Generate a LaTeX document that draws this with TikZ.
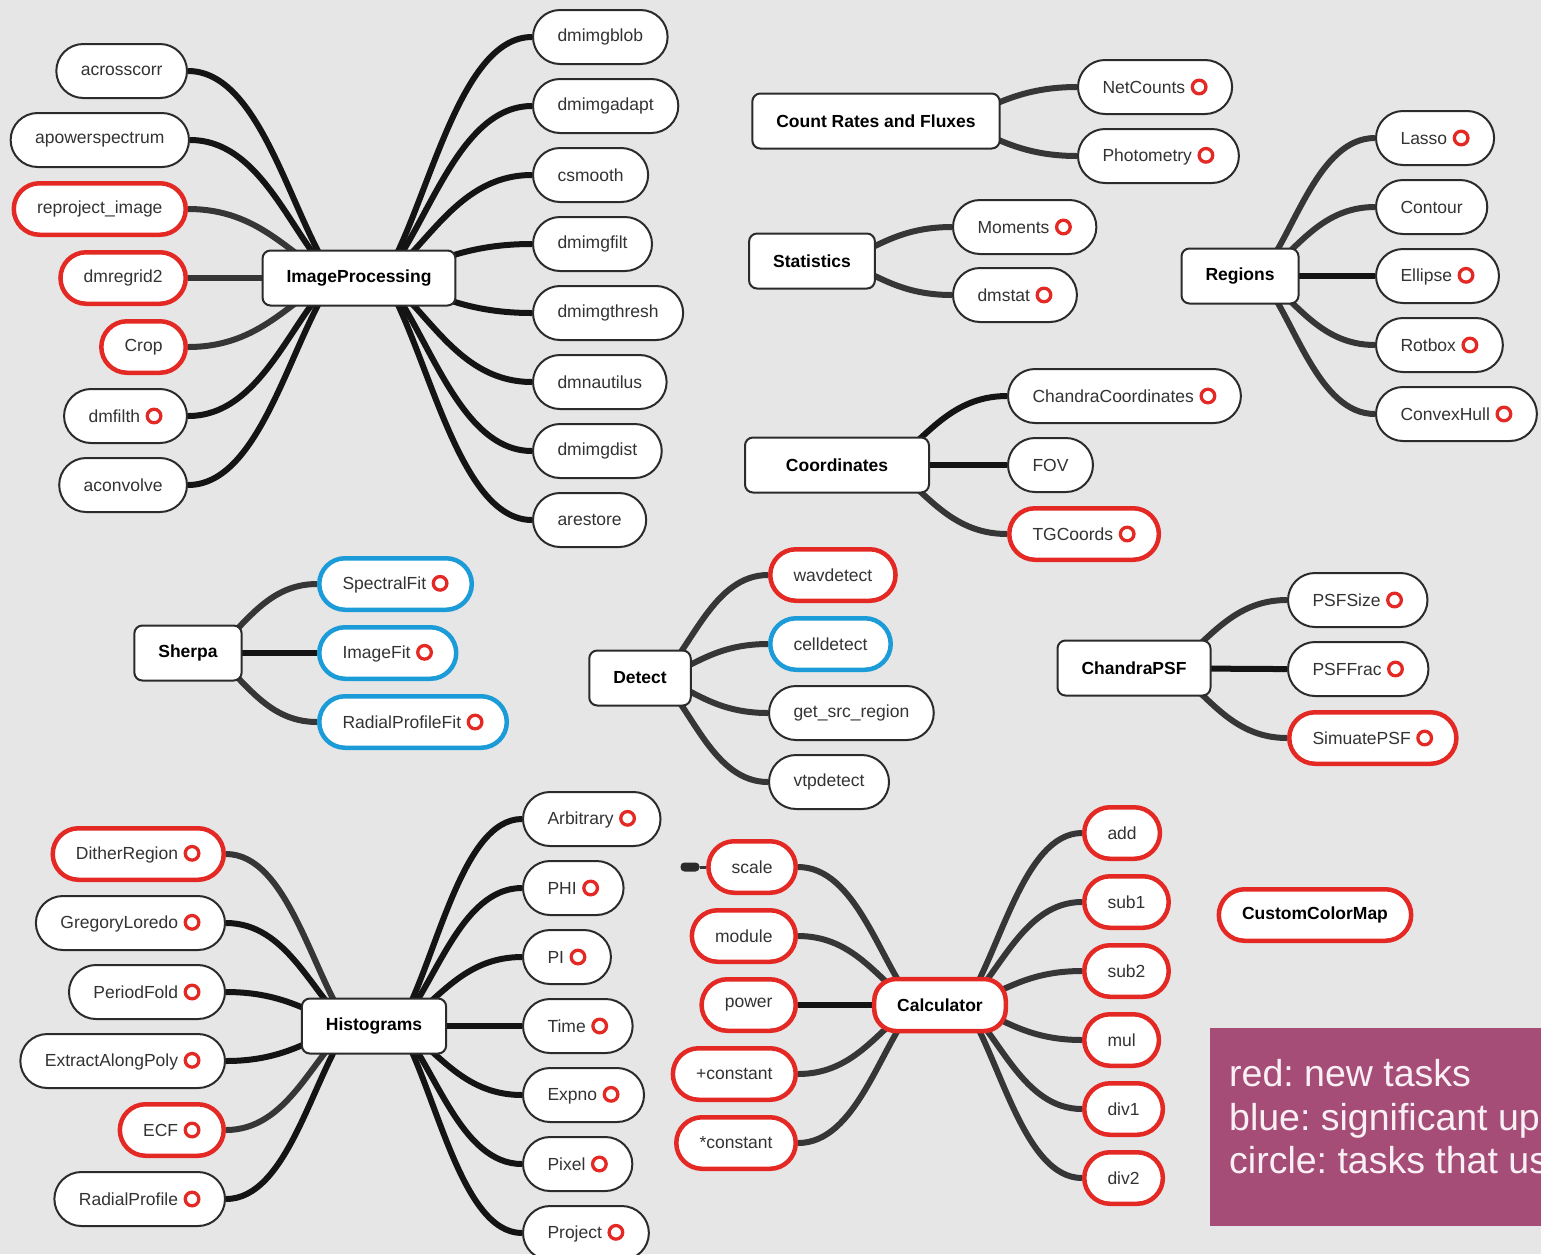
\documentclass[tikz,border=0pt]{standalone}
\usepackage{fontspec}
\setmainfont{Liberation Sans}
\usetikzlibrary{calc}
\frenchspacing
\pgfdeclarelayer{back}
\pgfdeclarelayer{bg}
\pgfsetlayers{back,bg,main}
\definecolor{paper}{HTML}{E6E6E6}
\definecolor{newred}{HTML}{E42823}
\definecolor{updblue}{HTML}{1B9BD7}
\definecolor{pillgray}{HTML}{2B2B2B}
\definecolor{txtgray}{HTML}{333333}
\definecolor{connblack}{HTML}{141414}
\definecolor{conngray}{HTML}{363636}
\definecolor{legendbg}{HTML}{A64D77}
\definecolor{legendtxt}{HTML}{F8F0F4}
\newcommand\taskring{\tikz[x=1cm,y=1cm,baseline=-6.2pt]\draw[line width=3.3pt,draw=newred] (0,0) circle (6.8pt);}
\newcommand\withring{\hspace{5.5pt}\taskring}
\newcommand\linkit[3][conngray]{\draw[conn,draw=#1] (#2) .. controls ($(#2)!0.3!(#3)$) and ($(#3)!0.5!(#3 -| #2)$) .. (#3);}
\tikzset{
  leaf/.style={draw=pillgray, line width=2pt, fill=white, rounded corners=27pt,
    minimum height=54pt, inner xsep=24.5pt, inner ysep=0pt,
    font=\fontsize{17.5}{20}\selectfont, text=txtgray},
  newt/.style={leaf, draw=newred, line width=4.5pt, rounded corners=25.75pt,
    minimum height=51.5pt, inner xsep=23.25pt},
  updt/.style={leaf, draw=updblue, line width=4.5pt, rounded corners=25.75pt,
    minimum height=51.5pt, inner xsep=23.25pt},
  hub/.style={draw=pillgray, line width=2pt, fill=white, rounded corners=8pt,
    minimum height=55pt, inner xsep=24pt, inner ysep=0pt,
    font=\fontsize{17.5}{20}\selectfont\bfseries, text=black},
  calchub/.style={hub, draw=newred, line width=4.5pt, rounded corners=22pt,
    minimum height=52pt, inner xsep=23pt},
  conn/.style={line width=6pt},
  legendtext/.style={anchor=base west, inner sep=0pt, text=legendtxt,
    font=\fontsize{37.5}{44}\selectfont},
}
\begin{document}
\begin{tikzpicture}[x=1pt,y=-1pt]
\useasboundingbox (0,0) rectangle (1541,1254);
\begin{pgfonlayer}{back}
\fill[paper] (0,0) rectangle (1541,1254);
\end{pgfonlayer}
\clip (0,0) rectangle (1541,1254);

% ---------- ImageProcessing ----------
\node[hub] (ip) at (359,278) {ImageProcessing};
\node[leaf,anchor=east] (acrosscorr) at (188,71) {acrosscorr};
\node[leaf,anchor=east] (apower) at (190,140) {apowerspectrum};
\node[newt,anchor=east] (reproj) at (188,209) {reproject\_image};
\node[newt,anchor=east] (dmregrid) at (188,278) {dmregrid2};
\node[newt,anchor=east] (crop) at (188,347) {Crop};
\node[leaf,anchor=east] (dmfilth) at (188,416) {dmfilth\withring};
\node[leaf,anchor=east] (aconv) at (188,485) {aconvolve};
\node[leaf,anchor=west] (blob) at (532,37) {dmimgblob};
\node[leaf,anchor=west] (adapt) at (532,106) {dmimgadapt};
\node[leaf,anchor=west] (csmooth) at (532,175) {csmooth};
\node[leaf,anchor=west] (filt) at (532,244) {dmimgfilt};
\node[leaf,anchor=west] (thresh) at (532,313) {dmimgthresh};
\node[leaf,anchor=west] (naut) at (532,382) {dmnautilus};
\node[leaf,anchor=west] (dist) at (532,451) {dmimgdist};
\node[leaf,anchor=west] (arest) at (532,520) {arestore};
\coordinate (ipL) at ($(ip.center)+(-25,0)$);
\coordinate (ipR) at ($(ip.center)+(25,0)$);

% ---------- Count Rates ----------
\node[hub] (crf) at (876,121) {Count Rates and Fluxes};
\node[leaf,anchor=west] (netc) at (1077,87) {NetCounts\withring};
\node[leaf,anchor=west] (phot) at (1077,156) {Photometry\withring};
\coordinate (crfR) at ($(crf.center)+(75,0)$);

% ---------- Statistics ----------
\node[hub] (stats) at (812,261) {Statistics};
\node[leaf,anchor=west] (moments) at (952,227) {Moments\withring};
\node[leaf,anchor=west] (dmstat) at (952,295) {dmstat\withring};
\coordinate (statsR) at ($(stats.center)+(28,0)$);

% ---------- Coordinates ----------
\node[hub, minimum width=184pt] (coords) at (837,465) {Coordinates};
\node[leaf,anchor=west] (chcoord) at (1007,396) {ChandraCoordinates\withring};
\node[leaf,anchor=west] (fov) at (1007,465) {FOV};
\node[newt,anchor=west] (tgc) at (1007,534) {TGCoords\withring};
\coordinate (coordsR) at ($(coords.center)+(50,0)$);

% ---------- Regions ----------
\node[hub] (regions) at (1240,276) {Regions};
\node[leaf,anchor=west] (lasso) at (1375,138) {Lasso\withring};
\node[leaf,anchor=west] (contour) at (1375,207) {Contour};
\node[leaf,anchor=west] (ellipse) at (1375,276) {Ellipse\withring};
\node[leaf,anchor=west] (rotbox) at (1375,345) {Rotbox\withring};
\node[leaf,anchor=west] (chull) at (1375,414) {ConvexHull\withring};
\coordinate (regR) at ($(regions.center)+(20,0)$);

% ---------- Sherpa ----------
\node[hub] (sherpa) at (188,653) {Sherpa};
\node[updt,anchor=west] (specfit) at (317,584) {SpectralFit\withring};
\node[updt,anchor=west] (imgfit) at (317,653) {ImageFit\withring};
\node[updt,anchor=west] (radfit) at (317,722) {RadialProfileFit\withring};
\coordinate (sherpaR) at ($(sherpa.center)+(22,0)$);

% ---------- Detect ----------
\node[hub] (detect) at (640,678) {Detect};
\node[newt,anchor=west] (wav) at (768,575) {wavdetect};
\node[updt,anchor=west] (cell) at (768,644) {celldetect};
\node[leaf,anchor=west] (getsrc) at (768,713) {get\_src\_region};
\node[leaf,anchor=west] (vtp) at (768,782) {vtpdetect};
\coordinate (detectR) at ($(detect.center)+(20,0)$);

% ---------- ChandraPSF ----------
\node[hub] (cpsf) at (1134,668) {ChandraPSF};
\node[leaf,anchor=west] (psfsize) at (1287,600) {PSFSize\withring};
\node[leaf,anchor=west] (psffrac) at (1287,669) {PSFFrac\withring};
\node[newt,anchor=west] (simpsf) at (1287,738) {SimuatePSF\withring};
\coordinate (cpsfR) at ($(cpsf.center)+(36,0)$);

% ---------- Histograms ----------
\node[hub] (hist) at (374,1026) {Histograms};
\node[newt,anchor=east] (dither) at (226,854) {DitherRegion\withring};
\node[leaf,anchor=east] (greg) at (226,923) {GregoryLoredo\withring};
\node[leaf,anchor=east] (pfold) at (226,992) {PeriodFold\withring};
\node[leaf,anchor=east] (eap) at (226,1061) {ExtractAlongPoly\withring};
\node[newt,anchor=east] (ecf) at (226,1130) {ECF\withring};
\node[leaf,anchor=east] (radprof) at (226,1199) {RadialProfile\withring};
\node[leaf,anchor=west] (arb) at (522,819) {Arbitrary\withring};
\node[leaf,anchor=west] (phi) at (522,888) {PHI\withring};
\node[leaf,anchor=west] (pi) at (522,957) {PI\withring};
\node[leaf,anchor=west] (time) at (522,1026) {Time\withring};
\node[leaf,anchor=west] (expno) at (522,1095) {Expno\withring};
\node[leaf,anchor=west] (pixel) at (522,1164) {Pixel\withring};
\node[leaf,anchor=west] (project) at (522,1233) {Project\withring};
\coordinate (histL) at ($(hist.center)+(-25,0)$);
\coordinate (histR) at ($(hist.center)+(25,0)$);

% ---------- Calculator ----------
\node[calchub] (calc) at (940,1005) {Calculator};
\node[newt,anchor=east] (scale) at (798,867) {scale};
\node[newt,anchor=east] (module) at (798,936) {module};
\node[newt,anchor=east] (power) at (798,1005) {power};
\node[newt,anchor=east] (pconst) at (798,1074) {+constant};
\node[newt,anchor=east] (mconst) at (798,1143) {*constant};
\node[newt,anchor=west] (add) at (1082,833) {add};
\node[newt,anchor=west] (sub1) at (1082,902) {sub1};
\node[newt,anchor=west] (sub2) at (1082,971) {sub2};
\node[newt,anchor=west] (mul) at (1082,1040) {mul};
\node[newt,anchor=west] (div1) at (1082,1109) {div1};
\node[newt,anchor=west] (div2) at (1082,1178) {div2};
\node[fill=pillgray, rounded corners=4pt, minimum width=19pt, minimum height=9pt,
  inner sep=0pt] (fold) at (690,867) {};
\coordinate (calcL) at ($(calc.center)+(-25,0)$);
\coordinate (calcR) at ($(calc.center)+(25,0)$);

% ---------- CustomColorMap ----------
\node[newt, font=\fontsize{17.5}{20}\selectfont\bfseries, text=black] (ccm) at (1315,915) {CustomColorMap};

% ---------- Legend ----------
\node[fill=legendbg, anchor=north west, minimum width=340pt, minimum height=198pt,
  inner sep=0pt] (legend) at (1210,1028) {};
\node[legendtext] (leg1) at (1229,1086) {red: new tasks};
\node[legendtext] (leg2) at (1229,1130) {blue: significant up};
\node[legendtext] (leg3) at (1229,1173) {circle: tasks that us};

% ---------- connectors ----------
\begin{pgfonlayer}{bg}
\linkit[connblack]{ipL}{acrosscorr.east}
\linkit[connblack]{ipL}{apower.east}
\linkit{ipL}{reproj.east}
\linkit{ipL}{dmregrid.east}
\linkit{ipL}{crop.east}
\linkit[connblack]{ipL}{dmfilth.east}
\linkit[connblack]{ipL}{aconv.east}
\linkit[connblack]{ipR}{blob.west}
\linkit[connblack]{ipR}{adapt.west}
\linkit[connblack]{ipR}{csmooth.west}
\linkit[connblack]{ipR}{filt.west}
\linkit[connblack]{ipR}{thresh.west}
\linkit[connblack]{ipR}{naut.west}
\linkit[connblack]{ipR}{dist.west}
\linkit[connblack]{ipR}{arest.west}

\linkit{crfR}{netc.west}
\linkit{crfR}{phot.west}

\linkit{statsR}{moments.west}
\linkit{statsR}{dmstat.west}

\linkit[connblack]{coordsR}{chcoord.west}
\linkit[connblack]{coordsR}{fov.west}
\linkit{coordsR}{tgc.west}

\linkit{regR}{lasso.west}
\linkit{regR}{contour.west}
\linkit[connblack]{regR}{ellipse.west}
\linkit{regR}{rotbox.west}
\linkit{regR}{chull.west}

\linkit{sherpaR}{specfit.west}
\linkit[connblack]{sherpaR}{imgfit.west}
\linkit{sherpaR}{radfit.west}

\linkit{detectR}{wav.west}
\linkit{detectR}{cell.west}
\linkit{detectR}{getsrc.west}
\linkit{detectR}{vtp.west}

\linkit{cpsfR}{psfsize.west}
\linkit[connblack]{cpsfR}{psffrac.west}
\linkit{cpsfR}{simpsf.west}

\linkit{histL}{dither.east}
\linkit[connblack]{histL}{greg.east}
\linkit[connblack]{histL}{pfold.east}
\linkit[connblack]{histL}{eap.east}
\linkit{histL}{ecf.east}
\linkit[connblack]{histL}{radprof.east}
\linkit[connblack]{histR}{arb.west}
\linkit[connblack]{histR}{phi.west}
\linkit[connblack]{histR}{pi.west}
\linkit[connblack]{histR}{time.west}
\linkit[connblack]{histR}{expno.west}
\linkit[connblack]{histR}{pixel.west}
\linkit[connblack]{histR}{project.west}

\linkit{calcL}{scale.east}
\linkit{calcL}{module.east}
\linkit[connblack]{calcL}{power.east}
\linkit{calcL}{pconst.east}
\linkit{calcL}{mconst.east}
\linkit{calcR}{add.west}
\linkit{calcR}{sub1.west}
\linkit{calcR}{sub2.west}
\linkit{calcR}{mul.west}
\linkit{calcR}{div1.west}
\linkit{calcR}{div2.west}
\draw[line width=3pt, conngray] (fold.east) -- (scale.west);
\end{pgfonlayer}
\end{tikzpicture}
\end{document}
